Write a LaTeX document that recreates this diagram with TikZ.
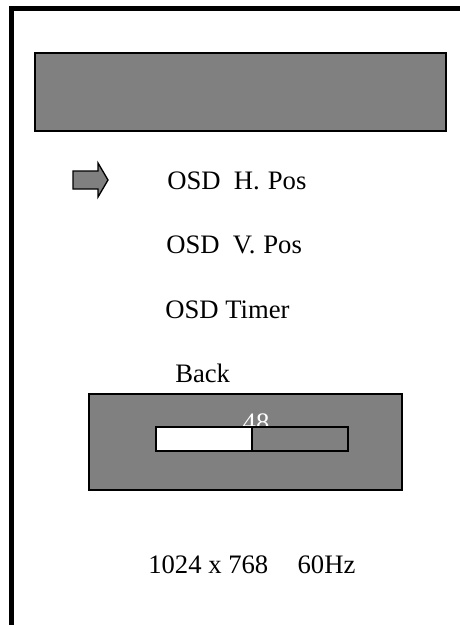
\documentclass[tikz,border=0pt]{standalone}
\usepackage{fontspec}
\setmainfont{Liberation Serif}
\begin{document}
\begin{tikzpicture}[x=0.75pt,y=-0.75pt,
  lbl/.style={anchor=base west,inner sep=0pt,font=\fontsize{20}{23}\selectfont},
  grayfill/.style={fill=osdgray,draw=black,line width=1.2pt},
  frameline/.style={line width=3.8pt,draw=black}]
\definecolor{osdgray}{RGB}{128,128,128}
\useasboundingbox (0,0) rectangle (460,625);
% frame
\draw[frameline] (11.5,630) -- (11.5,8.5) -- (465,8.5);
% title bar
\draw[grayfill] (35,53) rectangle (446,131);
% pointer arrow
\draw[grayfill,line width=1pt,line join=miter] (73,171) -- (98,171) -- (98,163) -- (108,180) -- (98,197) -- (98,189) -- (73,189) -- cycle;
% menu items
\node[lbl] (hpos) at (167,189) {OSD\hspace{0.5em}H.\hspace{0.3em}Pos};
\node[lbl] (vpos) at (166,253) {OSD\hspace{0.5em}V.\hspace{0.3em}Pos};
\node[lbl] (timer) at (165,318) {OSD Timer};
\node[lbl] (back) at (175,382) {Back};
% slider box
\draw[grayfill] (89,394) rectangle (402,490);
\node[lbl,anchor=base,text=white] (val) at (256,431) {48};
\draw[fill=white,draw=black,line width=1.2pt] (156,427) rectangle (252,451);
\draw[grayfill] (252,427) rectangle (348,451);
% resolution
\node[lbl] (res) at (148,573) {1024 x 768\hspace{1.1em}60Hz};
\end{tikzpicture}
\end{document}
